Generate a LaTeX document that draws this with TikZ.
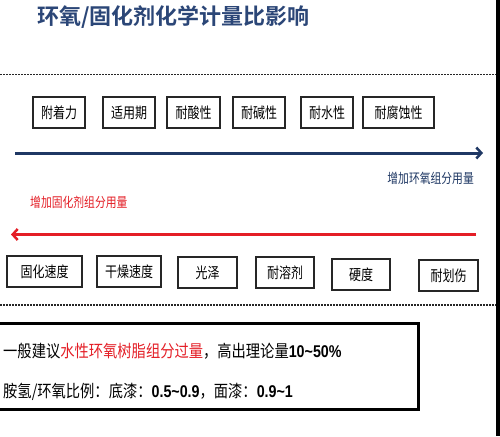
\documentclass[tikz,border=0pt]{standalone}
\usepackage{fontspec}
\setmainfont{Noto Sans CJK SC}[BoldFont={* Bold}]
\newfontfamily\lat{Liberation Sans}
\usetikzlibrary{arrows.meta}
\definecolor{navy}{HTML}{1F3864}
\definecolor{titleblue}{HTML}{2B4677}
\definecolor{redc}{HTML}{E41E26}
\newcommand{\condtext}[1]{\scalebox{0.8}[1]{#1}}
\newcommand{\condwide}[1]{\scalebox{0.84}[1]{#1}}
\tikzset{
  prop/.style={draw=black!85, line width=1.2pt, fill=white, minimum height=31pt, inner sep=0pt, font=\fontsize{15}{15}\selectfont},
  dotline/.style={draw=black!85, line width=1.8pt, dash pattern=on 1.6pt off 1.4pt},
  bigarrow/.style={line width=3pt, -{Straight Barb[length=5pt,width=11pt,line width=2.5pt]}}
}
\begin{document}
\begin{tikzpicture}[x=1pt,y=-1pt]
\useasboundingbox (0,0) rectangle (500,436);
\fill[white] (0,0) rectangle (500,436);
% right edge bar
\fill[black] (495.5,0) rectangle (500,436);
% title
\node[anchor=west, text=titleblue, font=\fontsize{22}{22}\selectfont\bfseries, inner sep=0pt] (title) at (37,17) {环氧/固化剂化学计量比影响};
% dotted lines
\coordinate (d1a) at (0,74.5); \coordinate (d1b) at (496,74.5);
\draw[dotline] (d1a) -- (d1b);
\coordinate (d2a) at (0,305); \coordinate (d2b) at (496,305);
\draw[dotline] (d2a) -- (d2b);
% top boxes
\node[prop, minimum width=52pt] (t1) at (59,112.5) {\condtext{附着力}};
\node[prop, minimum width=52pt] (t2) at (129,112.5) {\condtext{适用期}};
\node[prop, minimum width=53pt] (t3) at (193.5,112.5) {\condtext{耐酸性}};
\node[prop, minimum width=52pt] (t4) at (259,112.5) {\condtext{耐碱性}};
\node[prop, minimum width=52pt] (t5) at (327,112.5) {\condtext{耐水性}};
\node[prop, minimum width=71pt] (t6) at (398.5,112.5) {\condtext{耐腐蚀性}};
% blue arrow
\coordinate (ba) at (15,153); \coordinate (bb) at (483,153);
\draw[bigarrow, navy] (ba) -- (bb);
\node[anchor=east, text=navy, font=\fontsize{13.5}{13.5}\selectfont, inner sep=0pt] (lblue) at (474,178) {\condtext{增加环氧组分用量}};
% red arrow
\node[anchor=west, text=redc, font=\fontsize{13.5}{13.5}\selectfont, inner sep=0pt] (lred) at (30,202) {\condtext{增加固化剂组分用量}};
\coordinate (ra) at (476,234.5); \coordinate (rb) at (11,234.5);
\draw[bigarrow, redc] (ra) -- (rb);
% bottom boxes
\node[prop, minimum width=75pt] (b1) at (44.5,271.5) {\condtext{固化速度}};
\node[prop, minimum width=64pt] (b2) at (129,271.5) {\condtext{干燥速度}};
\node[prop, minimum width=59pt] (b3) at (207.5,272.5) {\condtext{光泽}};
\node[prop, minimum width=58pt] (b4) at (285,272.5) {\condtext{耐溶剂}};
\node[prop, minimum width=58pt] (b5) at (361,274.5) {\condtext{硬度}};
\node[prop, minimum width=59pt] (b6) at (448.5,275.5) {\condtext{耐划伤}};
% summary box
\draw[line width=3pt, black] (-3,323) rectangle (418,409);
\node[anchor=west, inner sep=0pt, font=\fontsize{17}{17}\selectfont] (s1) at (3,351)
  {\condwide{一般建议\textcolor{redc}{水性环氧树脂组分过量}，高出理论量{\lat\bfseries 10\char"7E 50\%}}};
\node[anchor=west, inner sep=0pt, font=\fontsize{17}{17}\selectfont] (s2) at (3,392)
  {\condwide{胺氢/环氧比例：底漆：{\lat\bfseries 0.5\char"7E 0.9}，面漆：{\lat\bfseries 0.9\char"7E 1}}};
\end{tikzpicture}
\end{document}
